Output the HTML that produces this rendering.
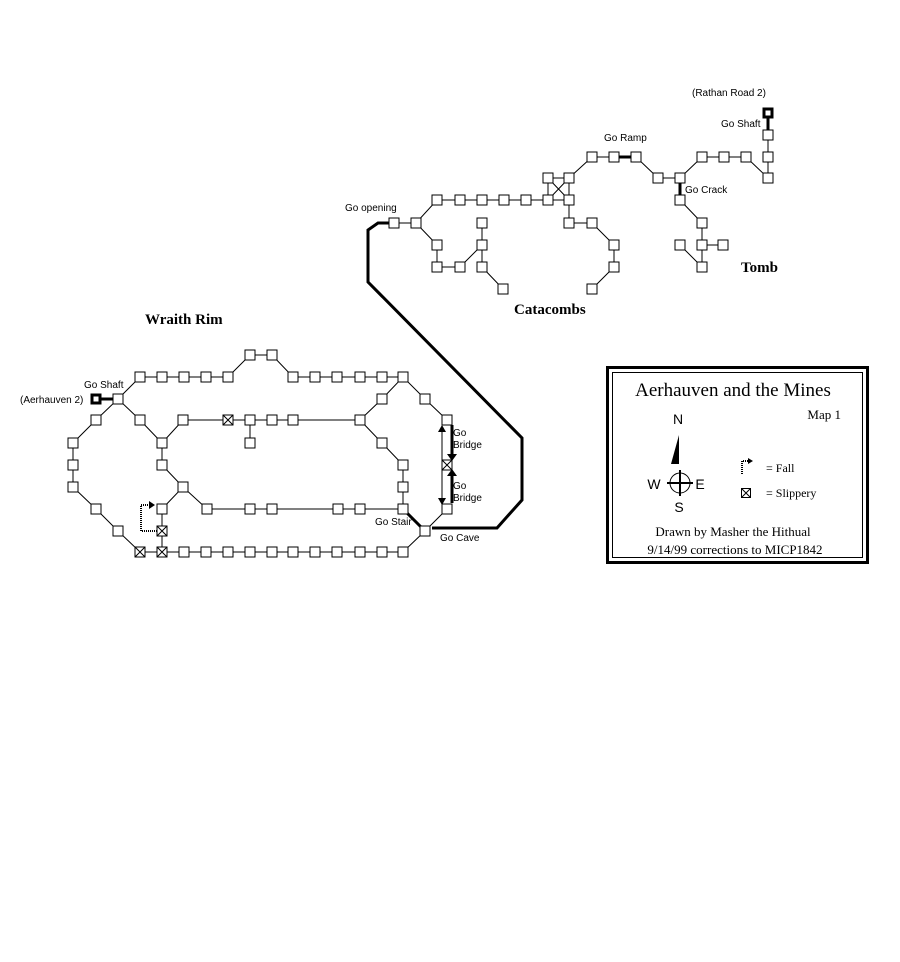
<!DOCTYPE html>
<html><head><meta charset="utf-8"><style>
html,body{margin:0;padding:0;background:#fff;}
svg{display:block;}
.s{font-family:"Liberation Sans",sans-serif;font-size:10px;}
.t{font-family:"Liberation Serif",serif;font-size:15px;font-weight:bold;}
</style></head><body>
<svg width="900" height="962" viewBox="0 0 900 962" xmlns="http://www.w3.org/2000/svg">
<g stroke="#000" stroke-width="1" fill="none">
<!-- top area lines -->
<path d="M394 223H416L437 200H569M416 223L437 245V267H460L482 245M482 223V267L503 289M569 200V223H592L614 245V267L592 289M548 178H569M548 178V200M569 178V200M548 178L569 200M569 178L548 200M569 178L592 157H614M636 157L658 178H680L702 157H746L768 178M768 135V178M680 200L702 223V267M702 245H723M680 245L702 267"/>
<path d="M614 157H636M768 113V135M680 178V200" stroke-width="3"/>
<path d="M394 223H378L368 230V282L522 438V500L497 528H432" stroke-width="3"/>
<!-- wraith lines -->
<path d="M140 377H228L250 355H272L293 377H403M118 399L140 377M118 399L96 420L73 443V487L96 509L118 531L140 552H403L425 531M118 399L140 420L162 443V465L183 487L162 509V552M183 487L207 509H403M162 443L183 420H360L382 399L403 377L425 399L447 420M250 420V443M360 420L382 443L403 465V509M447 509L425 531"/>
<path d="M96 399H118M403 509L425 531" stroke-width="3"/>
<!-- bridge arrows -->
<path d="M442 430V465M442 470V500" stroke-width="1"/>
<path d="M452 425V455M452 475V503" stroke-width="3"/>
<!-- fall -->
<path d="M157 531H141V505H149" stroke-width="2" stroke-dasharray="1,1"/>
</g>
<g fill="#000">
<path d="M442 425L438 432H446Z"/>
<path d="M442 505L438 498H446Z"/>
<path d="M452 461L447 454H457Z"/>
<path d="M452 469L447 476H457Z"/>
<path d="M149 501L155 505L149 509Z"/>
</g>
<g fill="#fff" stroke="#000" stroke-width="1">
<!-- top boxes -->
<rect x="389" y="218" width="10" height="10"/><rect x="411" y="218" width="10" height="10"/>
<rect x="432" y="195" width="10" height="10"/><rect x="455" y="195" width="10" height="10"/><rect x="477" y="195" width="10" height="10"/><rect x="499" y="195" width="10" height="10"/><rect x="521" y="195" width="10" height="10"/><rect x="543" y="195" width="10" height="10"/><rect x="564" y="195" width="10" height="10"/>
<rect x="543" y="173" width="10" height="10"/><rect x="564" y="173" width="10" height="10"/>
<rect x="587" y="152" width="10" height="10"/><rect x="609" y="152" width="10" height="10"/><rect x="631" y="152" width="10" height="10"/>
<rect x="653" y="173" width="10" height="10"/><rect x="675" y="173" width="10" height="10"/>
<rect x="697" y="152" width="10" height="10"/><rect x="719" y="152" width="10" height="10"/><rect x="741" y="152" width="10" height="10"/>
<rect x="763" y="130" width="10" height="10"/><rect x="763" y="152" width="10" height="10"/><rect x="763" y="173" width="10" height="10"/>
<rect x="675" y="195" width="10" height="10"/><rect x="697" y="218" width="10" height="10"/><rect x="697" y="240" width="10" height="10"/><rect x="718" y="240" width="10" height="10"/><rect x="675" y="240" width="10" height="10"/><rect x="697" y="262" width="10" height="10"/>
<rect x="564" y="218" width="10" height="10"/><rect x="587" y="218" width="10" height="10"/><rect x="609" y="240" width="10" height="10"/><rect x="609" y="262" width="10" height="10"/><rect x="587" y="284" width="10" height="10"/>
<rect x="432" y="240" width="10" height="10"/><rect x="432" y="262" width="10" height="10"/><rect x="455" y="262" width="10" height="10"/><rect x="477" y="218" width="10" height="10"/><rect x="477" y="240" width="10" height="10"/><rect x="477" y="262" width="10" height="10"/><rect x="498" y="284" width="10" height="10"/>
<rect x="764" y="109" width="8" height="8" stroke-width="3"/>
<!-- wraith boxes -->
<rect x="135" y="372" width="10" height="10"/><rect x="157" y="372" width="10" height="10"/><rect x="179" y="372" width="10" height="10"/><rect x="201" y="372" width="10" height="10"/><rect x="223" y="372" width="10" height="10"/>
<rect x="245" y="350" width="10" height="10"/><rect x="267" y="350" width="10" height="10"/>
<rect x="288" y="372" width="10" height="10"/><rect x="310" y="372" width="10" height="10"/><rect x="332" y="372" width="10" height="10"/><rect x="355" y="372" width="10" height="10"/><rect x="377" y="372" width="10" height="10"/><rect x="398" y="372" width="10" height="10"/>
<rect x="113" y="394" width="10" height="10"/>
<rect x="92" y="395" width="8" height="8" stroke-width="3"/>
<rect x="91" y="415" width="10" height="10"/><rect x="135" y="415" width="10" height="10"/><rect x="178" y="415" width="10" height="10"/><rect x="245" y="415" width="10" height="10"/><rect x="267" y="415" width="10" height="10"/><rect x="288" y="415" width="10" height="10"/><rect x="355" y="415" width="10" height="10"/><rect x="442" y="415" width="10" height="10"/>
<rect x="377" y="394" width="10" height="10"/><rect x="420" y="394" width="10" height="10"/>
<rect x="68" y="438" width="10" height="10"/><rect x="157" y="438" width="10" height="10"/><rect x="245" y="438" width="10" height="10"/><rect x="377" y="438" width="10" height="10"/>
<rect x="68" y="460" width="10" height="10"/><rect x="157" y="460" width="10" height="10"/><rect x="398" y="460" width="10" height="10"/>
<rect x="68" y="482" width="10" height="10"/><rect x="178" y="482" width="10" height="10"/><rect x="398" y="482" width="10" height="10"/>
<rect x="91" y="504" width="10" height="10"/><rect x="157" y="504" width="10" height="10"/><rect x="202" y="504" width="10" height="10"/><rect x="245" y="504" width="10" height="10"/><rect x="267" y="504" width="10" height="10"/><rect x="333" y="504" width="10" height="10"/><rect x="355" y="504" width="10" height="10"/><rect x="398" y="504" width="10" height="10"/><rect x="442" y="504" width="10" height="10"/>
<rect x="113" y="526" width="10" height="10"/><rect x="420" y="526" width="10" height="10"/>
<rect x="179" y="547" width="10" height="10"/><rect x="201" y="547" width="10" height="10"/><rect x="223" y="547" width="10" height="10"/><rect x="245" y="547" width="10" height="10"/><rect x="267" y="547" width="10" height="10"/><rect x="288" y="547" width="10" height="10"/><rect x="310" y="547" width="10" height="10"/><rect x="332" y="547" width="10" height="10"/><rect x="355" y="547" width="10" height="10"/><rect x="377" y="547" width="10" height="10"/><rect x="398" y="547" width="10" height="10"/>
<!-- slippery -->
<rect x="223" y="415" width="10" height="10"/><path d="M223 415L233 425M233 415L223 425"/>
<rect x="442" y="460" width="10" height="10"/><path d="M442 460L452 470M452 460L442 470"/>
<rect x="157" y="526" width="10" height="10"/><path d="M157 526L167 536M167 526L157 536"/>
<rect x="135" y="547" width="10" height="10"/><path d="M135 547L145 557M145 547L135 557"/>
<rect x="157" y="547" width="10" height="10"/><path d="M157 547L167 557M167 547L157 557"/>
</g>
<!-- labels -->
<g class="s" fill="#000">
<text x="692" y="96">(Rathan Road 2)</text>
<text x="721" y="127">Go Shaft</text>
<text x="604" y="141">Go Ramp</text>
<text x="685" y="193">Go Crack</text>
<text x="345" y="211">Go opening</text>
<text x="84" y="388">Go Shaft</text>
<text x="20" y="403">(Aerhauven 2)</text>
<text x="453" y="436">Go</text><text x="453" y="448">Bridge</text>
<text x="453" y="489">Go</text><text x="453" y="501">Bridge</text>
<text x="375" y="525">Go Stair</text>
<text x="440" y="541">Go Cave</text>
</g>
<g class="t" fill="#000">
<text x="145" y="324">Wraith Rim</text>
<text x="514" y="314">Catacombs</text>
<text x="741" y="272">Tomb</text>
</g>
<!-- legend -->
<rect x="607.5" y="367.5" width="260" height="195" fill="none" stroke="#000" stroke-width="3"/>
<rect x="612.5" y="372.5" width="250" height="185" fill="none" stroke="#000" stroke-width="1"/>
<g font-family="Liberation Serif,serif" fill="#000">
<text x="733" y="396" font-size="19" text-anchor="middle">Aerhauven and the Mines</text>
<text x="841" y="419" font-size="13" text-anchor="end">Map 1</text>
<text x="766" y="472" font-size="12">= Fall</text>
<text x="766" y="497" font-size="12">= Slippery</text>
<text x="733" y="536" font-size="13" text-anchor="middle">Drawn by Masher the Hithual</text>
<text x="735" y="554" font-size="13" text-anchor="middle">9/14/99 corrections to MICP1842</text>
</g>
<g font-family="Liberation Sans,sans-serif" font-size="14" fill="#000" text-anchor="middle">
<text x="678" y="424">N</text>
<text x="654" y="489">W</text>
<text x="700" y="489">E</text>
<text x="679" y="512">S</text>
</g>
<path d="M679 435L671 464H679Z" fill="#000"/>
<g stroke="#000" fill="none">
<circle cx="680" cy="483" r="10" stroke-width="1"/>
<path d="M680 470V496M667 483H693" stroke-width="2"/>
<path d="M742 474V461H748" stroke-width="2" stroke-dasharray="1,1"/>
<rect x="741.5" y="488.5" width="9" height="9"/><path d="M741.5 488.5L750.5 497.5M750.5 488.5L741.5 497.5"/>
</g>
<path d="M748 458L753 461L748 464Z" fill="#000"/>
</svg>
</body></html>
